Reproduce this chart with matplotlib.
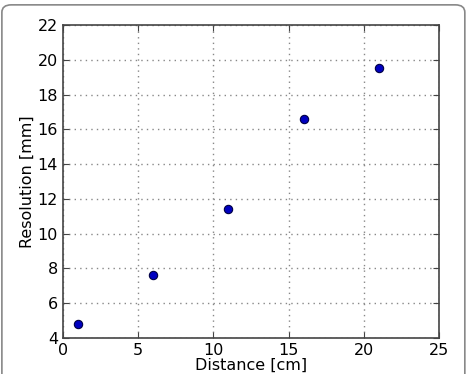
import matplotlib
matplotlib.use("Agg")
import matplotlib.pyplot as plt
from matplotlib.patches import FancyBboxPatch

distance = [1, 6, 11, 16, 21]
resolution = [4.8, 7.6, 11.4, 16.6, 19.5]
xticks = [0, 5, 10, 15, 20, 25]
yticks = [4, 6, 8, 10, 12, 14, 16, 18, 20, 22]

fig = plt.figure(figsize=(4.7, 3.74), dpi=100)
fig.patch.set_facecolor("white")
border = FancyBboxPatch((0.004, -0.05), 0.985, 1.037, boxstyle="round,pad=0,rounding_size=0.02",
                        transform=fig.transFigure, facecolor="none", edgecolor="#888888", linewidth=1.2)
fig.patches.append(border)

ax = fig.add_axes([0.134, 0.0963, 0.800, 0.837])
ax.plot(distance, resolution, "o", color="#0000c0", markeredgecolor="#000044", markersize=6, markeredgewidth=0.8)
ax.set_xlim(0, 25)
ax.set_ylim(4, 22)
ax.set_xticks(xticks)
ax.set_yticks(yticks)
ax.grid(True, linestyle=(0, (1, 3)), color="#888888", linewidth=1)
ax.tick_params(direction="in", top=True, right=True, labelsize=11.5, length=4, color="#444444")
for s in ax.spines.values():
    s.set_color("#444444")
    s.set_linewidth(1.2)
ax.set_xlabel("Distance [cm]", fontsize=11.5, labelpad=0)
ax.set_ylabel("Resolution [mm]", fontsize=11.5, labelpad=2)
fig.savefig("out.png", dpi=100)
